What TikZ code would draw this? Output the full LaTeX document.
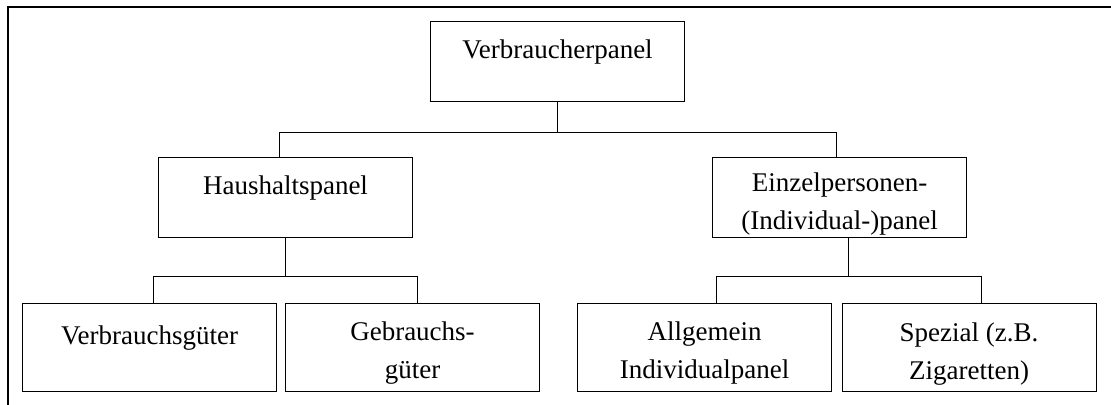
\documentclass[tikz,border=0pt]{standalone}
\usepackage{fontspec}
\setmainfont{Liberation Serif}
\newcommand\boxtop{\rule{0pt}{15.5pt}}
\begin{document}
\begin{tikzpicture}[x=0.5pt,y=-0.5pt,line width=0.5pt,every node/.style={font=\fontsize{13.5}{19}\selectfont},box/.style={draw,inner sep=0pt,align=center,minimum width=127pt,minimum height=40pt},leaf/.style={box,minimum height=44pt}]
\useasboundingbox(0,0)rectangle(1111,405);
\draw[line width=1pt](8,405)--(8,7)--(1111,7);
% boxes
\node[box](top)at(557.5,62){\boxtop Verbraucherpanel\\\mbox{}};
\node[box](haus)at(285.5,198){\boxtop Haushaltspanel\\\mbox{}};
\node[box](einzel)at(839.5,198){\boxtop Einzelpersonen-\\(Individual-)panel};
\node[leaf](verbr)at(149.5,347.5){\boxtop Verbrauchsgüter\\\mbox{}};
\node[leaf](gebr)at(412.5,347){\boxtop Gebrauchs-\\güter};
\node[leaf](allg)at(704.5,347){\boxtop Allgemein\\Individualpanel};
\node[leaf](spez)at(969,347.5){\boxtop Spezial (z.B.\\Zigaretten)};
% connectors
\coordinate(j0)at(557,133);\coordinate(a1)at(279,133);\coordinate(a2)at(836,133);
\draw(top.south)--(top.south|-j0);\draw(a1|-haus.north)--(a1)--(a2)--(a2|-einzel.north);
\coordinate(j1)at(285,277);\coordinate(b1)at(153,277);\coordinate(b2)at(417,277);
\draw(j1|-haus.south)--(j1);\draw(b1|-verbr.north)--(b1)--(b2)--(b2|-gebr.north);
\coordinate(j2)at(848,277);\coordinate(c1)at(716,277);\coordinate(c2)at(981,277);
\draw(j2|-einzel.south)--(j2);\draw(c1|-allg.north)--(c1)--(c2)--(c2|-spez.north);
\end{tikzpicture}
\end{document}
